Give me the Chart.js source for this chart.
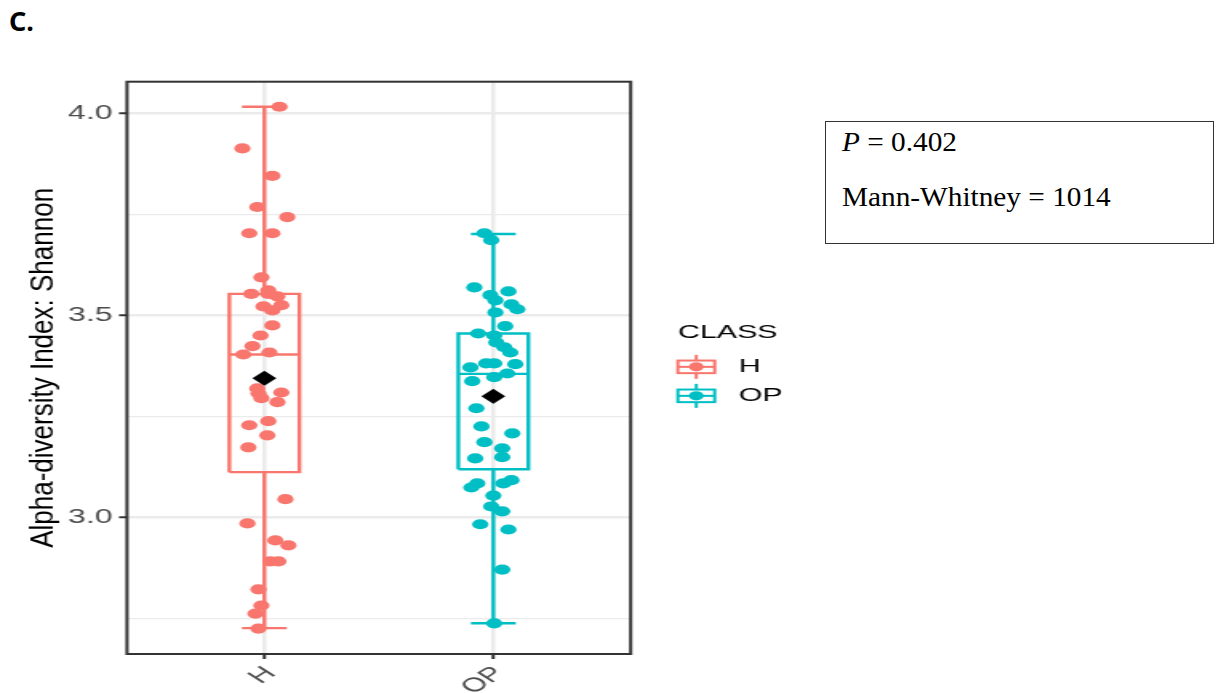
<!DOCTYPE html>
<html>
<head>
<meta charset="utf-8">
<title>Alpha diversity - Shannon</title>
<script src="https://cdn.jsdelivr.net/npm/chart.js@4"></script>
<style>
  html, body { margin: 0; padding: 0; background: #fff; overflow: hidden; }
  #wrap { position: relative; width: 1218px; height: 693px; }
  #panelLabel { position: absolute; left: 9px; top: 2px; font: bold 27px "Noto Sans", sans-serif; color: #000; }
  /* the original figure is stretched horizontally, so the canvas is too */
  #plot { position: absolute; left: 0; top: 0; width: 500px; height: 712px; transform: scaleX(1.6); transform-origin: 0 0; }
  #stats { position: absolute; left: 825px; top: 121px; width: 387px; height: 121px; border: 1px solid #333; font-family: "Liberation Serif", serif; font-size: 27px; color: #000; }
  #stats div { position: absolute; left: 16px; line-height: 27px; white-space: nowrap; transform: scaleX(1.085); transform-origin: 0 0; }
</style>
</head>
<body>
<div id="wrap">
  <div id="panelLabel">C.</div>
  <canvas id="plot" width="500" height="712"></canvas>
  <div id="stats">
    <div style="top:7px"><i>P</i> = 0.402</div>
    <div style="top:62px">Mann-Whitney = 1014</div>
  </div>
</div>
<script>
// groups
const groups = ['H', 'OP'];
const groupColors = ['#F8766D', '#00BFC4'];
const yTitleText = 'Alpha-diversity Index: Shannon';

// Shannon index per sample, with the horizontal jitter
const hValues = [4.016, 3.913, 3.845, 3.768, 3.743, 3.703, 3.703, 3.594, 3.553, 3.562,
                 3.553, 3.547, 3.522, 3.512, 3.525, 3.475, 3.450, 3.424, 3.403, 3.408,
                 3.319, 3.307, 3.295, 3.309, 3.285, 3.228, 3.238, 3.203, 3.173, 3.045,
                 2.985, 2.943, 2.931, 2.891, 2.891, 2.822, 2.782, 2.762, 2.725];
const hJitter = [0.066, -0.096, 0.035, -0.031, 0.100, -0.066, 0.035, -0.013, -0.057, 0.017,
                 0.017, 0.057, -0.004, 0.035, 0.074, 0.035, -0.017, -0.052, -0.092, 0.022,
                 -0.031, -0.026, -0.013, 0.074, 0.057, -0.066, 0.017, 0.013, -0.070, 0.092,
                 -0.074, 0.048, 0.105, 0.026, 0.061, -0.026, -0.013, -0.039, -0.026];

const opValues = [3.703, 3.686, 3.569, 3.559, 3.550, 3.537, 3.527, 3.515, 3.507, 3.473,
                  3.455, 3.450, 3.433, 3.421, 3.408, 3.371, 3.381, 3.381, 3.379, 3.356,
                  3.347, 3.337, 3.270, 3.225, 3.208, 3.186, 3.171, 3.149, 3.146, 3.092,
                  3.084, 3.084, 3.074, 3.054, 3.027, 3.015, 2.983, 2.970, 2.871, 2.738];
const opJitter = [-0.039, -0.009, -0.083, 0.066, -0.013, 0.009, 0.079, 0.105, 0.009, 0.052,
                  -0.066, 0.004, 0.013, 0.048, 0.074, -0.100, -0.031, 0.004, 0.096, 0.061,
                  0.004, -0.092, -0.074, -0.052, 0.083, -0.039, 0.039, 0.039, -0.079, 0.079,
                  0.044, -0.070, -0.096, 0.000, -0.009, 0.039, -0.057, 0.066, 0.039, 0.004];

// box plot statistics (H, OP)
const q1 = [3.112, 3.119];
const medians = [3.403, 3.355];
const q3 = [3.553, 3.455];
const whiskerLow = [2.726, 2.738];
const whiskerHigh = [4.016, 3.701];
const means = [3.344, 3.300];

// y axis ticks
const yTicks = [2.75, 3.0, 3.25, 3.5, 3.75, 4.0];
const yTickLabels = ['', '3.0', '', '3.5', '', '4.0'];

const FONT = '"Liberation Sans", Arial, sans-serif';
Chart.defaults.font.family = FONT;

const groupPoints = [[hValues, hJitter], [opValues, opJitter]];

function boxSegments(i) {
  const c = i + 1, hw = 0.153, cw = 0.098;
  return [
    [[c - hw, q1[i]], [c + hw, q1[i]], [c + hw, q3[i]], [c - hw, q3[i]], [c - hw, q1[i]]],
    [[c - hw, medians[i]], [c + hw, medians[i]]],
    [[c, q3[i]], [c, whiskerHigh[i]]],
    [[c, q1[i]], [c, whiskerLow[i]]],
    [[c - cw, whiskerHigh[i]], [c + cw, whiskerHigh[i]]],
    [[c - cw, whiskerLow[i]], [c + cw, whiskerLow[i]]]
  ];
}

const datasets = [];

// mean markers (on top)
datasets.push({
  label: 'mean',
  data: means.map((m, i) => ({ x: i + 1, y: m })),
  pointStyle: 'rectRot',
  pointRadius: 7.5,
  backgroundColor: '#000',
  borderColor: '#000',
  borderWidth: 0,
  order: 0
});

// jittered samples
groups.forEach((g, i) => {
  const [vals, jit] = groupPoints[i];
  datasets.push({
    label: g,
    data: vals.map((v, k) => ({ x: i + 1 + jit[k], y: v })),
    pointRadius: 5.1,
    backgroundColor: groupColors[i],
    borderWidth: 0,
    order: 1
  });
});

// boxes, medians, whiskers
groups.forEach((g, i) => {
  boxSegments(i).forEach(seg => {
    datasets.push({
      label: g + ' box',
      data: seg.map(p => ({ x: p[0], y: p[1] })),
      showLine: true,
      pointRadius: 0,
      borderColor: groupColors[i],
      borderWidth: 2.4,
      borderJoinStyle: 'miter',
      fill: false,
      order: 2
    });
  });
});

// panel border on top, like theme_bw
const panelBorder = {
  id: 'panelBorder',
  afterDraw(chart) {
    const a = chart.chartArea, ctx = chart.ctx;
    ctx.save();
    ctx.strokeStyle = '#333333';
    ctx.lineWidth = 2;
    ctx.strokeRect(a.left, a.top, a.right - a.left, a.bottom - a.top);
    ctx.restore();
  }
};

// y title, condensed look of the source figure
const yTitle = {
  id: 'yTitle',
  afterDraw(chart) {
    const a = chart.chartArea, ctx = chart.ctx;
    ctx.save();
    ctx.translate(a.left - 46.3, (a.top + a.bottom) / 2);
    ctx.rotate(-Math.PI / 2);
    ctx.scale(1.3, 1);
    ctx.font = '20px ' + FONT;
    ctx.fillStyle = '#000';
    ctx.textAlign = 'center';
    ctx.textBaseline = 'alphabetic';
    ctx.fillText(yTitleText, 0, 0);
    ctx.restore();
  }
};

// ggplot style legend with box plot keys
const classLegend = {
  id: 'classLegend',
  afterDraw(chart) {
    const a = chart.chartArea, ctx = chart.ctx;
    const mid = (a.top + a.bottom) / 2;
    ctx.save();
    ctx.fillStyle = '#000';
    ctx.textBaseline = 'middle';
    ctx.textAlign = 'left';
    ctx.font = '19px ' + FONT;
    ctx.fillText('CLASS', a.right + 29.5, mid - 35);
    groups.forEach((g, i) => {
      const cy = mid - 1 + i * 29;
      const cx = a.right + 41;
      ctx.strokeStyle = groupColors[i];
      ctx.lineWidth = 2;
      ctx.beginPath();
      ctx.moveTo(cx, cy - 12); ctx.lineTo(cx, cy + 12);
      ctx.stroke();
      ctx.fillStyle = '#fff';
      ctx.fillRect(cx - 11.5, cy - 6.3, 23, 12.6);
      ctx.strokeRect(cx - 11.5, cy - 6.3, 23, 12.6);
      ctx.beginPath();
      ctx.moveTo(cx - 11.5, cy); ctx.lineTo(cx + 11.5, cy);
      ctx.stroke();
      ctx.fillStyle = groupColors[i];
      ctx.beginPath();
      ctx.arc(cx, cy, 4.6, 0, 2 * Math.PI);
      ctx.fill();
      ctx.fillStyle = '#000';
      ctx.fillText(g, a.right + 67.5, cy);
    });
    ctx.restore();
  }
};

const ctx = document.getElementById('plot').getContext('2d');
new Chart(ctx, {
  type: 'scatter',
  data: { datasets: datasets },
  options: {
    responsive: false,
    devicePixelRatio: 1,
    animation: false,
    events: [],
    layout: { padding: { left: 0, top: 81.7, right: 105.8, bottom: 0 } },
    plugins: {
      legend: { display: false },
      tooltip: { enabled: false }
    },
    scales: {
      x: {
        type: 'linear',
        min: 0.4,
        max: 2.6,
        afterBuildTicks: s => { s.ticks = groups.map((g, i) => ({ value: i + 1 })); },
        afterFit: s => { s.height = 58; },
        ticks: {
          autoSkip: false,
          minRotation: 45,
          maxRotation: 45,
          padding: 3,
          labelOffset: 4,
          color: '#4D4D4D',
          font: { size: 20 },
          callback: v => groups[v - 1]
        },
        grid: { color: '#EBEBEB', lineWidth: 2.5, tickColor: '#333333', tickLength: 5, tickWidth: 2 },
        border: { display: false }
      },
      y: {
        min: 2.662,
        max: 4.078,
        afterBuildTicks: s => { s.ticks = yTicks.map(v => ({ value: v })); },
        afterFit: s => { s.width = 79.4; },
        ticks: {
          autoSkip: false,
          padding: 4,
          color: '#4D4D4D',
          font: { size: 20 },
          callback: (v, i) => yTickLabels[i]
        },
        grid: {
          color: '#EBEBEB',
          lineWidth: c => (yTickLabels[c.index] ? 2.5 : 1.2),
          tickColor: c => (yTickLabels[c.index] ? '#333333' : 'rgba(0,0,0,0)'),
          tickLength: 5,
          tickWidth: 2
        },
        border: { display: false }
      }
    }
  },
  plugins: [panelBorder, yTitle, classLegend]
});
</script>
</body>
</html>
